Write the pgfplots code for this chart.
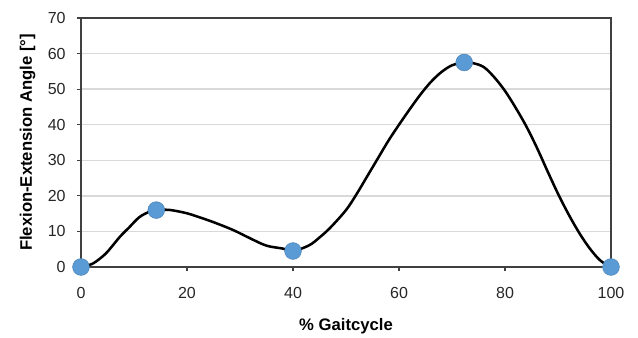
\documentclass[border=0pt]{standalone}
\usepackage{fontspec}
\setmainfont{Liberation Sans}
\usepackage{pgfplots}
\pgfplotsset{compat=1.18}
\definecolor{markblue}{HTML}{5B9BD5}
\definecolor{frame}{HTML}{404040}
\definecolor{gridc}{HTML}{D9D9D9}
\begin{document}
\begin{tikzpicture}
\begin{axis}[
  scale only axis,
  width=397.5pt, height=186.75pt,
  xmin=0, xmax=100, ymin=0, ymax=70,
  xtick={0,20,...,100}, ytick={0,10,...,70},
  xtick pos=bottom, ytick pos=left,
  /pgf/number format/assume math mode=true,
  tick label style={font=\fontsize{12}{14}\selectfont, text=black!85},
  xticklabel style={yshift=-9pt},
  yticklabel style={xshift=-5pt},
  tick align=outside, major tick length=3pt,
  tick style={frame, line width=0.8pt},
  ymajorgrids, grid style={gridc, line width=1.1pt},
  axis line style={frame, line width=1.4pt},
  xlabel={\% Gaitcycle},
  ylabel={Flexion-Extension Angle [°]},
  label style={font=\bfseries\fontsize{12.5}{15}\selectfont},
  xlabel style={at={(axis description cs:0.5,-0.253)}, anchor=base},
  ylabel style={at={(axis description cs:-0.0925,0.5)}, anchor=base, rotate=0},
  clip=false,
]
\addplot[black, line width=1.9pt, smooth, tension=0.55] coordinates {
(0,0) (2,0.8) (3.6,2.4) (5,4.3) (7.4,8.6) (9,11) (11,14) (13,15.6) (14.2,16)
(16,16.1) (17.4,15.9) (20,15.1) (22.5,13.9) (25,12.6) (28.7,10.4) (32,8)
(35,6) (38,5.2) (40,4.5) (42,5.4) (43.5,6.5) (45,8.3) (47,11) (50,16)
(52,20.5) (54,25.5) (56,30.5) (58,35.5) (60,40) (62,44.3) (64,48.4) (66,52) (68,54.8)
(70,56.7) (72.3,57.5) (74,57.3) (76,56.2) (78,53.3) (80,49.5) (82,44.8)
(84,39.6) (86,33.6) (88,27) (90,20.6) (92,14.8) (94,9.6)
(96,5.2) (98,1.8) (100,0)
};
\addplot[only marks, mark=*, mark size=6.3pt, mark options={fill=markblue, draw=markblue!85!black, line width=0.4pt}] coordinates {
(0,0) (14.2,16) (40,4.5) (72.3,57.5) (100,0)
};
\end{axis}
\pgfresetboundingbox
\path (current axis.south west) ++(-60.75pt,-52.5pt) coordinate (bbsw);
\path (current axis.north east) ++(20.25pt,13.5pt) coordinate (bbne);
\useasboundingbox (bbsw) rectangle (bbne);
\end{tikzpicture}
\end{document}
